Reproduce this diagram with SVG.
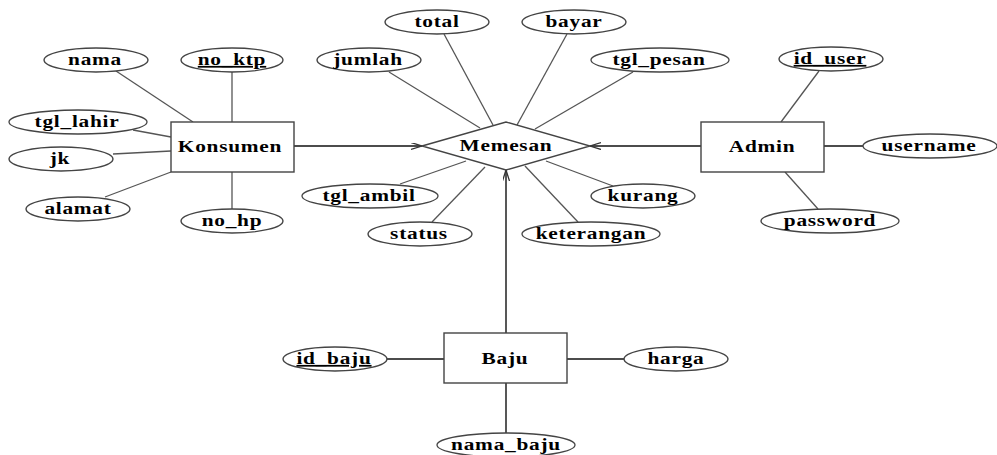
<svg xmlns="http://www.w3.org/2000/svg" width="997" height="455" viewBox="0 0 997 455">
<style>
.ent{fill:#fff;stroke:#444;stroke-width:1.4}
.att{fill:#fff;stroke:#444;stroke-width:1.3}
.t{font-family:"Liberation Serif","Times New Roman",serif;font-weight:bold;font-size:17.5px;letter-spacing:0.6px;text-anchor:middle;fill:#000}
.u{text-decoration:underline}
.al{stroke:#555;stroke-width:1.3;fill:none}
.rl{stroke:#111;stroke-width:1.4;fill:none}
</style>
<defs>
<marker id="arr" markerUnits="userSpaceOnUse" markerWidth="14" markerHeight="10" refX="11" refY="3.5" orient="auto">
<path d="M0,0 L11,3.5 L0,7" fill="none" stroke="#333" stroke-width="1.3"/>
</marker>
</defs>
<rect width="997" height="455" fill="#fff"/>
<g id="connectors">
<line class="al" x1="116" y1="71" x2="193" y2="122"/>
<line class="al" x1="232" y1="72" x2="232" y2="122"/>
<line class="al" x1="133" y1="130" x2="171" y2="137"/>
<line class="al" x1="113" y1="154" x2="171" y2="151"/>
<line class="al" x1="105" y1="197" x2="171" y2="172"/>
<line class="al" x1="232" y1="172" x2="232" y2="209"/>
<line class="al" x1="389" y1="72" x2="480" y2="128"/>
<line class="al" x1="444" y1="34" x2="493" y2="125"/>
<line class="al" x1="567" y1="34" x2="517" y2="125"/>
<line class="al" x1="633" y1="72" x2="535" y2="129"/>
<line class="al" x1="400" y1="184" x2="466" y2="161"/>
<line class="al" x1="432" y1="222" x2="485" y2="167"/>
<line class="al" x1="578" y1="222" x2="525" y2="166"/>
<line class="al" x1="613" y1="186" x2="546" y2="161"/>
<line class="al" x1="819" y1="71" x2="781" y2="122"/>
<line class="rl" x1="824" y1="146" x2="863" y2="146"/>
<line class="al" x1="785" y1="172" x2="818" y2="209"/>
<line class="rl" x1="387" y1="359" x2="444" y2="359"/>
<line class="rl" x1="567" y1="359" x2="624" y2="359"/>
<line class="rl" x1="506" y1="383" x2="506" y2="433"/>
<line class="rl" x1="294" y1="146" x2="422" y2="146" marker-end="url(#arr)"/>
<line class="rl" x1="701" y1="146" x2="590" y2="146" marker-end="url(#arr)"/>
<line class="rl" x1="506" y1="333" x2="506" y2="170" marker-end="url(#arr)"/>
</g>
<g id="konsumen"><rect class="ent" x="171" y="122" width="123" height="50"/><text class="t" transform="translate(230,152) scale(1.22,1)">Konsumen</text></g>
<g id="memesan"><polygon class="ent" points="422,146 506,122 590,146 506,170"/><text class="t" transform="translate(506,151) scale(1.22,1)">Memesan</text></g>
<g id="admin"><rect class="ent" x="701" y="122" width="123" height="50"/><text class="t" transform="translate(762,152) scale(1.22,1)">Admin</text></g>
<g id="baju"><rect class="ent" x="444" y="333" width="123" height="50"/><text class="t" transform="translate(505,364) scale(1.22,1)">Baju</text></g>
<g id="nama"><ellipse class="att" cx="96" cy="60" rx="52" ry="12"/><text class="t" transform="translate(95,65) scale(1.22,1)">nama</text></g>
<g id="no_ktp"><ellipse class="att" cx="232" cy="60" rx="51" ry="12"/><text class="t u" transform="translate(232,65) scale(1.22,1)">no_ktp</text></g>
<g id="tgl_lahir"><ellipse class="att" cx="78" cy="122" rx="69" ry="12"/><text class="t" transform="translate(77,127) scale(1.22,1)">tgl_lahir</text></g>
<g id="jk"><ellipse class="att" cx="61" cy="159" rx="52" ry="12"/><text class="t" transform="translate(60,164) scale(1.22,1)">jk</text></g>
<g id="alamat"><ellipse class="att" cx="78" cy="209" rx="52" ry="12"/><text class="t" transform="translate(78,214) scale(1.22,1)">alamat</text></g>
<g id="no_hp"><ellipse class="att" cx="232" cy="221" rx="51" ry="12"/><text class="t" transform="translate(232,226) scale(1.22,1)">no_hp</text></g>
<g id="total"><ellipse class="att" cx="437" cy="22" rx="52" ry="12"/><text class="t" transform="translate(437,27) scale(1.22,1)">total</text></g>
<g id="bayar"><ellipse class="att" cx="574" cy="22" rx="52" ry="12"/><text class="t" transform="translate(574,27) scale(1.22,1)">bayar</text></g>
<g id="jumlah"><ellipse class="att" cx="369" cy="60" rx="52" ry="12"/><text class="t" transform="translate(368,65) scale(1.22,1)">jumlah</text></g>
<g id="tgl_pesan"><ellipse class="att" cx="660" cy="60" rx="69" ry="12"/><text class="t" transform="translate(659,65) scale(1.22,1)">tgl_pesan</text></g>
<g id="tgl_ambil"><ellipse class="att" cx="370" cy="196" rx="68" ry="12"/><text class="t" transform="translate(369,201) scale(1.22,1)">tgl_ambil</text></g>
<g id="status"><ellipse class="att" cx="420" cy="234" rx="52" ry="12"/><text class="t" transform="translate(419,239) scale(1.22,1)">status</text></g>
<g id="kurang"><ellipse class="att" cx="643" cy="196" rx="52" ry="12"/><text class="t" transform="translate(643,201) scale(1.22,1)">kurang</text></g>
<g id="keterangan"><ellipse class="att" cx="591" cy="234" rx="69" ry="12"/><text class="t" transform="translate(591,239) scale(1.22,1)">keterangan</text></g>
<g id="id_user"><ellipse class="att" cx="831" cy="59" rx="52" ry="12"/><text class="t u" transform="translate(830,64) scale(1.22,1)">id_user</text></g>
<g id="username"><ellipse class="att" cx="930" cy="146" rx="67" ry="12"/><text class="t" transform="translate(929,151) scale(1.22,1)">username</text></g>
<g id="password"><ellipse class="att" cx="830" cy="221" rx="69" ry="12"/><text class="t" transform="translate(830,226) scale(1.22,1)">password</text></g>
<g id="id_baju"><ellipse class="att" cx="335" cy="359" rx="52" ry="12"/><text class="t u" transform="translate(334,364) scale(1.22,1)">id_baju</text></g>
<g id="harga"><ellipse class="att" cx="676" cy="359" rx="52" ry="12"/><text class="t" transform="translate(676,364) scale(1.22,1)">harga</text></g>
<g id="nama_baju"><ellipse class="att" cx="506" cy="445" rx="69" ry="12"/><text class="t" transform="translate(506,450) scale(1.22,1)">nama_baju</text></g>
</svg>
